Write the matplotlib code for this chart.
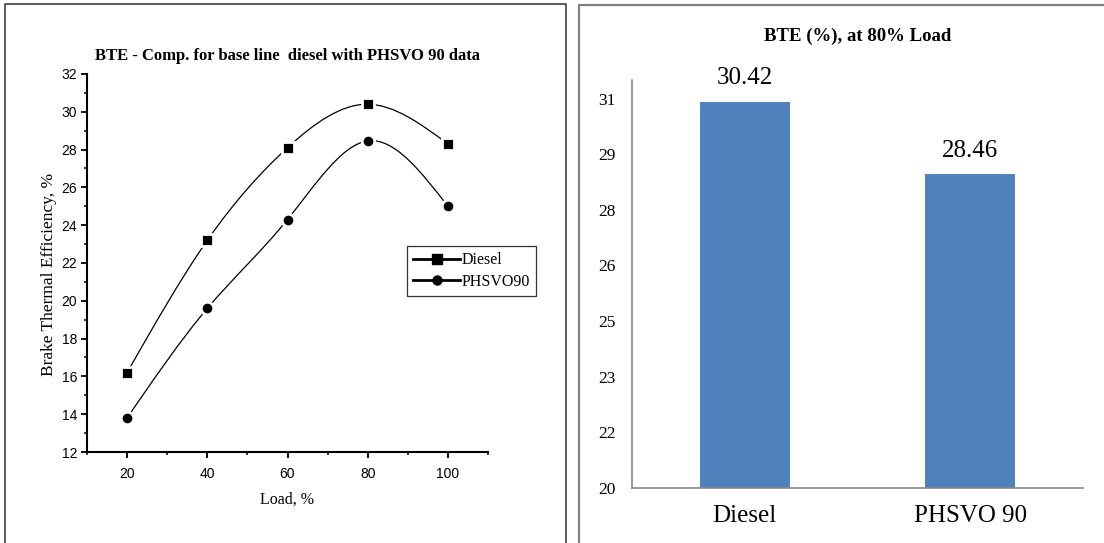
import numpy as np
import matplotlib
matplotlib.use('Agg')
import matplotlib.pyplot as plt
from matplotlib.path import Path
from matplotlib.patches import PathPatch
from matplotlib.lines import Line2D
from matplotlib.ticker import MultipleLocator

# left panel: BTE vs load
load = [20, 40, 60, 80, 100]
diesel = [16.2, 23.2, 28.1, 30.4, 28.3]
phsvo90 = [13.8, 19.6, 24.3, 28.46, 25.0]

# right panel: BTE at 80% load
bar_names = ['Diesel', 'PHSVO 90']
bar_vals = [30.42, 28.46]
bar_ticks = [20, 21.5, 23, 24.5, 26, 27.5, 29, 30.5]
bar_ticklabels = ['20', '22', '23', '25', '26', '28', '29', '31']

SERIF = 'Liberation Serif'
SANS = 'Liberation Sans'


def spline_path(x, y):
    # natural cubic spline, written as bezier segments
    x = np.asarray(x, float); y = np.asarray(y, float)
    n = len(x); h = np.diff(x)
    A = np.zeros((n, n)); b = np.zeros(n)
    A[0, 0] = A[-1, -1] = 1
    for i in range(1, n - 1):
        A[i, i - 1] = h[i - 1]; A[i, i] = 2 * (h[i - 1] + h[i]); A[i, i + 1] = h[i]
        b[i] = 3 * ((y[i + 1] - y[i]) / h[i] - (y[i] - y[i - 1]) / h[i - 1])
    c = np.linalg.solve(A, b)
    m = np.zeros(n)
    for i in range(n - 1):
        m[i] = (y[i + 1] - y[i]) / h[i] - h[i] * (2 * c[i] + c[i + 1]) / 3
    m[-1] = (y[-1] - y[-2]) / h[-1] + h[-1] * (2 * c[-1] + c[-2]) / 3
    verts = [(x[0], y[0])]; codes = [Path.MOVETO]
    for i in range(n - 1):
        d = h[i] / 3
        verts += [(x[i] + d, y[i] + m[i] * d), (x[i + 1] - d, y[i + 1] - m[i + 1] * d), (x[i + 1], y[i + 1])]
        codes += [Path.CURVE4] * 3
    return Path(verts, codes)


fig = plt.figure(figsize=(11.04, 5.43), dpi=100)
W, H = 1104, 543

def fx(px): return px / W
def fy(py): return 1 - py / H

# panel frames (cut off at the bottom)
fig.add_artist(Line2D([fx(5), fx(5), fx(566), fx(566)], [fy(560), fy(4), fy(4), fy(560)],
                      color='#404040', lw=1.2, transform=fig.transFigure))
fig.add_artist(Line2D([fx(579), fx(579), fx(1110)], [fy(560), fy(5), fy(5)],
                      color='#808080', lw=1.6, transform=fig.transFigure))

# ---------------- left chart ----------------
ax = fig.add_axes([fx(87), fy(452), fx(488) - fx(87), fy(74) - fy(452)])
for s in ['top', 'right']:
    ax.spines[s].set_visible(False)
for s in ['left', 'bottom']:
    ax.spines[s].set_linewidth(1.5)
ax.set_xlim(10, 110); ax.set_ylim(12, 32)
ax.set_xticks(load)
ax.xaxis.set_minor_locator(MultipleLocator(10))
ax.set_yticks(np.arange(12, 33, 2))
ax.yaxis.set_minor_locator(MultipleLocator(1))
ax.tick_params(which='major', direction='out', length=4.5, width=1.3, labelsize=10, pad=2.5)
ax.tick_params(which='minor', direction='out', length=2.5, width=1.1)
ax.tick_params(axis='x', pad=6)
for t in ax.get_xticklabels() + ax.get_yticklabels():
    t.set_fontfamily(SANS)

for ys, mk, ms in [(diesel, 's', 8.5), (phsvo90, 'o', 9)]:
    ax.add_patch(PathPatch(spline_path(load, ys), fill=False, edgecolor='black', lw=0.9, zorder=2))
    ax.plot(load, ys, ls='none', marker=mk, ms=ms, mfc='black', mec='white', mew=2, zorder=3, clip_on=False)

ax.set_title('BTE - Comp. for base line  diesel with PHSVO 90 data', fontfamily=SERIF,
             fontweight='bold', fontsize=12, pad=10)
ax.set_xlabel('Load, %', fontfamily=SERIF, fontsize=11.5, labelpad=8)
ax.set_ylabel('Brake Thermal Efficiency, %', fontfamily=SERIF, fontsize=12.5, labelpad=3, y=0.47)

handles = [Line2D([], [], color='black', lw=2, marker='s', ms=6.5),
           Line2D([], [], color='black', lw=2, marker='o', ms=6.5)]
leg = ax.legend(handles, ['Diesel', 'PHSVO90'], loc='upper left', bbox_to_anchor=(0.798, 0.545),
                borderaxespad=0, frameon=True, fancybox=False, handlelength=2.9, handletextpad=0.1,
                borderpad=0.4, labelspacing=0.35, prop={'family': SERIF, 'size': 11.5})
leg.get_frame().set_edgecolor('black'); leg.get_frame().set_linewidth(0.9)
leg.set_clip_on(False)

# ---------------- right chart ----------------
bx = fig.add_axes([fx(632), fy(488), fx(1083) - fx(632), fy(80) - fy(488)])
bars = bx.bar(bar_names, bar_vals, width=0.4, color='#4F81BD', zorder=2)
bx.set_xlim(-0.5, 1.5); bx.set_ylim(20, 31)
bx.set_yticks(bar_ticks)
bx.set_yticklabels(bar_ticklabels)
for s in ['top', 'right']:
    bx.spines[s].set_visible(False)
for s in ['left', 'bottom']:
    bx.spines[s].set_color('#868686'); bx.spines[s].set_linewidth(1.2)
bx.tick_params(axis='y', length=0, pad=12, labelsize=12.5)
bx.tick_params(axis='x', length=0, pad=12, labelsize=18)
for t in bx.get_xticklabels() + bx.get_yticklabels():
    t.set_fontfamily(SERIF)
bx.bar_label(bars, labels=[f'{v:.2f}' for v in bar_vals], padding=9, fontsize=18, fontfamily=SERIF)
bx.set_title('BTE (%), at 80% Load', fontfamily=SERIF, fontweight='bold', fontsize=13.5, pad=28)

fig.savefig('out.png', dpi=100)
